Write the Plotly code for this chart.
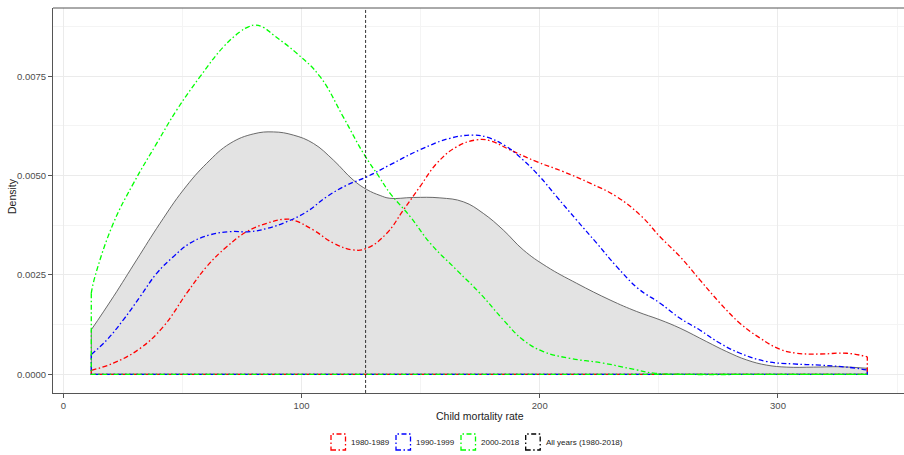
import plotly.graph_objects as go

# ---------------- data ----------------
x_min, x_max = 11.75, 337.5
mean_line = 126.9

all_x = [11.75, 21, 30.8, 40.6, 50.4, 60.2, 70, 79.8, 88.2, 96.6, 105, 113.4, 121.7, 127.4, 133,
         137.1, 147, 158.1, 168, 176.3, 184.7, 193.1, 202.9, 215.5, 229.5, 240.7, 250.5, 258.9,
         270.1, 278.5, 286.9, 295.3, 303.7, 314.9, 326.1, 337.5]
all_y = [0.00112, 0.00195, 0.00288, 0.0038, 0.00464, 0.00531, 0.00581, 0.00605, 0.0061, 0.00602,
         0.00581, 0.00539, 0.00489, 0.00465, 0.00450, 0.00443, 0.00445, 0.00444, 0.00434, 0.00405,
         0.00363, 0.00313, 0.00271, 0.00229, 0.00187, 0.00158, 0.00137, 0.00116, 0.00082, 0.00057,
         0.00036, 0.00023, 0.00018, 0.00018, 0.00019, 0.00015]

red_x = [11.75, 21, 32.2, 42, 51.8, 60.2, 68.6, 77, 85.4, 92.4, 96.6, 105, 113.4, 121.7, 127.4,
         135.8, 142.7, 149.7, 156.8, 165.2, 173.5, 179.1, 187.5, 198.7, 209.9, 221.1, 232.3,
         242.8, 250.5, 258.9, 267.3, 275.7, 284.1, 292.5, 300.8, 307.9, 317.7, 328.9, 337.5]
red_y = [0.0001, 0.00028, 0.00065, 0.0012, 0.00204, 0.00271, 0.00321, 0.00359, 0.0038, 0.0039,
         0.00388, 0.00363, 0.0033, 0.00313, 0.00317, 0.00355, 0.00413, 0.00472, 0.00531, 0.00573,
         0.0059, 0.00588, 0.00565, 0.00535, 0.0051, 0.00481, 0.00447, 0.00397, 0.00346, 0.00296,
         0.00237, 0.00179, 0.00128, 0.00091, 0.00063, 0.00053, 0.00051, 0.00053, 0.00044]

blue_x = [11.75, 18.2, 25.2, 32.2, 39.2, 46.2, 53.2, 61.6, 69.9, 78.4, 85.4, 93.8, 102.2, 110.6,
          119, 127.4, 137.1, 149.7, 162.3, 172.1, 177.7, 186.1, 193.1, 200.1, 207.1, 215.5, 223.9,
          232.3, 241.5, 250.5, 258.9, 267.3, 275.7, 284.1, 295.3, 306.5, 317.7, 328.9, 337.5]
blue_y = [0.00050, 0.00086, 0.00137, 0.00195, 0.00254, 0.00296, 0.0033, 0.00351, 0.00359, 0.00359,
          0.00367, 0.00384, 0.00409, 0.00447, 0.00476, 0.00497, 0.00527, 0.00565, 0.00594, 0.00602,
          0.00597, 0.00573, 0.00539, 0.00497, 0.00447, 0.00388, 0.0033, 0.00271, 0.00215, 0.00179,
          0.00141, 0.00111, 0.00078, 0.00053, 0.00032, 0.00026, 0.00023, 0.00018, 0.00011]

green_x = [11.75, 13.3, 21, 29.4, 39.2, 47.6, 57.4, 67.2, 74.2, 77.5, 80.5, 84, 88.2, 98, 107.8,
           117.5, 126, 133, 137.1, 145.6, 154, 165.2, 174.9, 184.7, 193.1, 201.5, 212.7, 226.7,
           240.7, 247.7, 260, 300, 337.5]
green_y = [0.00204, 0.00246, 0.0038, 0.0048, 0.00581, 0.00665, 0.00749, 0.00824, 0.00862, 0.00874,
           0.00879, 0.00873, 0.00854, 0.00808, 0.00749, 0.00648, 0.00556, 0.00493, 0.00456, 0.00397,
           0.0033, 0.00262, 0.00204, 0.00137, 0.00086, 0.00057, 0.0004, 0.00028, 0.00011, 0.00003,
           0.0, 0.0, 0.0]

series_names = ["1980-1989", "1990-1999", "2000-2018", "All years (1980-2018)"]
series_colors = ["#ff0000", "#0000ff", "#00ff00", "#000000"]

x_ticks = [0, 100, 200, 300]
y_ticks = [0.0, 0.0025, 0.0050, 0.0075]
y_tick_text = ["0.0000", "0.0025", "0.0050", "0.0075"]

# ---------------- figure ----------------
fig = go.Figure()

SM = 1.2
# all years: grey filled density
fig.add_trace(go.Scatter(x=all_x, y=all_y, mode="lines", fill="tozeroy",
                         fillcolor="#e3e3e3", line=dict(color="#5a5a5a", width=0.9, shape="spline", smoothing=SM),
                         showlegend=False, hoverinfo="skip"))
fig.add_trace(go.Scatter(x=[all_x[0], all_x[0], all_x[-1], all_x[-1]], y=[all_y[0], 0, 0, all_y[-1]],
                         mode="lines", line=dict(color="#5a5a5a", width=0.9), showlegend=False, hoverinfo="skip"))

dash_pat = "5px,2.5px,1.5px,2.5px"
for xs, ys, col in [(red_x, red_y, series_colors[0]), (blue_x, blue_y, series_colors[1]),
                    (green_x, green_y, series_colors[2])]:
    fig.add_trace(go.Scatter(x=xs, y=ys, mode="lines",
                             line=dict(color=col, width=1.3, dash=dash_pat, shape="spline", smoothing=SM),
                             showlegend=False, hoverinfo="skip"))
    fig.add_trace(go.Scatter(x=[xs[0], xs[0], xs[-1], xs[-1]], y=[ys[0], 0, 0, ys[-1]], mode="lines",
                             line=dict(color=col, width=1.3, dash=dash_pat),
                             showlegend=False, hoverinfo="skip"))

# mean vertical line
fig.add_trace(go.Scatter(x=[mean_line, mean_line], y=[-0.00047, 0.00922], mode="lines",
                         line=dict(color="#333333", width=1, dash="3px,2px"),
                         showlegend=False, hoverinfo="skip"))

W, H = 904, 455
L, R, T, B = 53, 0, 8, 62

fig.update_layout(
    width=W, height=H,
    margin=dict(l=L, r=R, t=T, b=B),
    paper_bgcolor="white", plot_bgcolor="white",
    font=dict(family="Liberation Sans, Arial, sans-serif", color="#4d4d4d"),
    showlegend=False,
    xaxis=dict(range=[-4.32, 352.9], tickvals=x_ticks, ticktext=[str(v) for v in x_ticks],
               showgrid=True, gridcolor="#ebebeb", gridwidth=1,
               minor=dict(dtick=50, tick0=50, showgrid=True, gridcolor="#f4f4f4", gridwidth=1),
               zeroline=False, showline=True, linecolor="#555555", linewidth=1,
               ticks="outside", ticklen=4, tickcolor="#555555", tickfont=dict(size=9.5, color="#4d4d4d")),
    yaxis=dict(range=[-0.000471, 0.009219], tickvals=y_ticks, ticktext=y_tick_text,
               showgrid=True, gridcolor="#ebebeb", gridwidth=1,
               minor=dict(tickvals=[0.00125, 0.00375, 0.00625, 0.00875], showgrid=True,
                          gridcolor="#f4f4f4", gridwidth=1),
               zeroline=False, showline=True, linecolor="#555555", linewidth=1,
               ticks="outside", ticklen=4, tickcolor="#555555", tickfont=dict(size=9.5, color="#4d4d4d")),
)

# top border
fig.add_shape(type="line", xref="paper", yref="paper", x0=0, x1=1, y0=1, y1=1,
              line=dict(color="#555555", width=1))

# axis titles
fig.add_annotation(text="Child mortality rate", xref="paper", yref="paper",
                   x=(479.7 - L) / (W - L - R), y=-(416 - (H - B)) / (H - T - B),
                   showarrow=False, font=dict(size=10.5, color="#222222"), xanchor="center", yanchor="middle")
fig.add_annotation(text="Density", xref="paper", yref="paper",
                   x=-(L - 12) / (W - L - R), y=(H - B - 196) / (H - T - B), textangle=-90,
                   showarrow=False, font=dict(size=10.5, color="#222222"), xanchor="center", yanchor="middle")

# manual legend with dashed box keys
key_left = [331, 396, 461, 525.7]
pw, ph = W - L - R, H - T - B
def px2paper(px, py):
    return (px - L) / pw, (H - B - py) / ph

for name, col, kx in zip(series_names, series_colors, key_left):
    x0, y0 = px2paper(kx, 450)
    x1, y1 = px2paper(kx + 14.5, 434)
    fig.add_shape(type="rect", xref="paper", yref="paper", x0=x0, x1=x1, y0=y0, y1=y1,
                  line=dict(color=col, width=1.3, dash="5px,2.5px,1.5px,2.5px"), fillcolor="rgba(0,0,0,0)")
    tx, ty = px2paper(kx + 19, 442)
    fig.add_annotation(text=name, xref="paper", yref="paper", x=tx, y=ty, showarrow=False,
                       xanchor="left", yanchor="middle", xshift=-1,
                       font=dict(size=8.0, color="#222222"))

fig.write_html("out.html")
